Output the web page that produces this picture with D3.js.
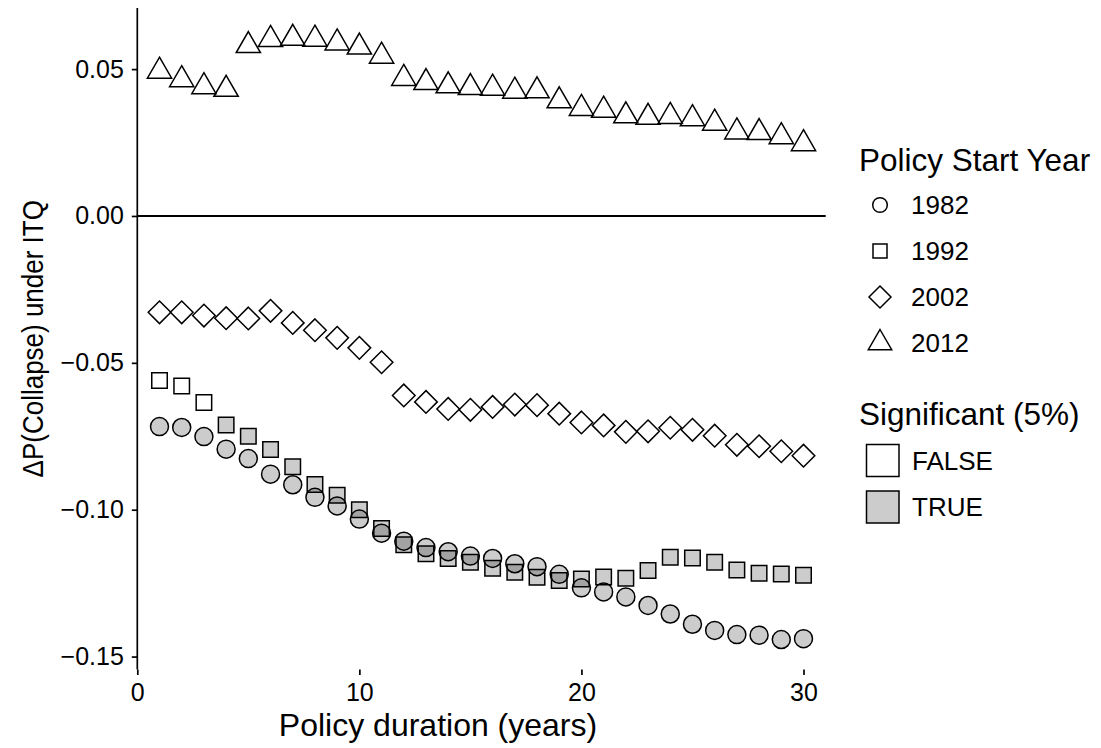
<!DOCTYPE html>
<html>
<head>
<meta charset="utf-8">
<script src="https://cdn.jsdelivr.net/npm/d3@7"></script>
<style>
  body { margin: 0; background: #fff; }
  svg text { font-family: "Liberation Sans", Arial, sans-serif; fill: #000; }
</style>
</head>
<body>
<div id="chart"></div>
<script>
// policy duration in years (x)
const duration = [1,2,3,4,5,6,7,8,9,10,11,12,13,14,15,16,17,18,19,20,21,22,23,24,25,26,27,28,29,30];

// delta P(collapse) per policy start year
const start1982 = [-0.0717,-0.0720,-0.0751,-0.0794,-0.0826,-0.0879,-0.0915,-0.0958,-0.0987,-0.1032,
                   -0.1080,-0.1107,-0.1129,-0.1143,-0.1158,-0.1166,-0.1184,-0.1194,-0.1220,-0.1266,
                   -0.1280,-0.1297,-0.1326,-0.1355,-0.1390,-0.1411,-0.1425,-0.1427,-0.1442,-0.1439];
const start1992 = [-0.0560,-0.0579,-0.0635,-0.0712,-0.0750,-0.0795,-0.0854,-0.0914,-0.0951,-0.1000,
                   -0.1064,-0.1119,-0.1150,-0.1166,-0.1179,-0.1199,-0.1213,-0.1230,-0.1241,-0.1236,
                   -0.1229,-0.1233,-0.1207,-0.1162,-0.1164,-0.1179,-0.1205,-0.1216,-0.1219,-0.1223];
const start2002 = [-0.0328,-0.0328,-0.0339,-0.0348,-0.0349,-0.0323,-0.0364,-0.0389,-0.0415,-0.0449,
                   -0.0498,-0.0611,-0.0633,-0.0657,-0.0660,-0.0650,-0.0642,-0.0644,-0.0673,-0.0703,
                   -0.0713,-0.0735,-0.0733,-0.0721,-0.0728,-0.0748,-0.0779,-0.0784,-0.0801,-0.0816];
const start2012 = [0.0493,0.0464,0.0440,0.0431,0.0580,0.0601,0.0605,0.0602,0.0589,0.0575,
                   0.0544,0.0468,0.0454,0.0443,0.0437,0.0435,0.0425,0.0426,0.0392,0.0366,
                   0.0360,0.0341,0.0336,0.0339,0.0331,0.0316,0.0286,0.0284,0.0270,0.0246];

// significant at 5%? (1992: first three durations are not)
const sig1982 = duration.map(() => true);
const sig1992 = [false,false,false,true,true,true,true,true,true,true,true,true,true,true,true,
                 true,true,true,true,true,true,true,true,true,true,true,true,true,true,true];
const sig2002 = duration.map(() => false);
const sig2012 = duration.map(() => false);

const years = ["1982", "1992", "2002", "2012"];
const sigLevels = ["FALSE", "TRUE"];
const xTicks = [0, 10, 20, 30];
const yTicks = [0.05, 0.00, -0.05, -0.10, -0.15];

const W = 1101, H = 748;
const margin = {left: 137.3, right: W - 825.7, top: 8, bottom: H - 669.5};

const svg = d3.select("#chart").append("svg")
    .attr("width", W).attr("height", H);

const x = d3.scaleLinear().domain([0, 31]).range([margin.left, W - margin.right]);
const y = d3.scaleLinear().domain([-0.1544, 0.0708]).range([H - margin.bottom, margin.top]);

// marker shapes
const diamond = {draw(ctx, size) {
    const r = Math.sqrt(size / 2);
    ctx.moveTo(0, -r); ctx.lineTo(r, 0); ctx.lineTo(0, r); ctx.lineTo(-r, 0); ctx.closePath();
}};
const shapeOf = {
    "1982": d3.symbol().type(d3.symbolCircle).size(Math.PI * 9 * 9),
    "1992": d3.symbol().type(d3.symbolSquare).size(15.5 * 15.5),
    "2002": d3.symbol().type(diamond).size(2 * 11.3 * 11.3),
    "2012": d3.symbol().type(d3.symbolTriangle).size(3 * Math.sqrt(3) / 4 * 14 * 14)
};
const fillOf = {"FALSE": "rgba(255,255,255,0.2)", "TRUE": "rgba(0,0,0,0.2)"};

const series = [
    {year: "1982", vals: start1982, sig: sig1982},
    {year: "1992", vals: start1992, sig: sig1992},
    {year: "2002", vals: start2002, sig: sig2002},
    {year: "2012", vals: start2012, sig: sig2012}
];
const points = [];
series.forEach(s => {
    duration.forEach((d, i) => {
        points.push({year: s.year, dur: d, val: s.vals[i], sig: s.sig[i] ? "TRUE" : "FALSE"});
    });
});

// zero line
svg.append("line")
    .attr("x1", x(0)).attr("x2", x(31))
    .attr("y1", y(0)).attr("y2", y(0))
    .attr("stroke", "#000").attr("stroke-width", 2);

// points
svg.append("g").selectAll("path")
    .data(points)
    .join("path")
    .attr("transform", d => `translate(${x(d.dur)},${y(d.val)})`)
    .attr("d", d => shapeOf[d.year]())
    .attr("fill", d => fillOf[d.sig])
    .attr("stroke", "#000")
    .attr("stroke-width", 1.5);

// y axis
const yAxis = svg.append("g")
    .attr("transform", `translate(${margin.left},0)`)
    .call(d3.axisLeft(y).tickValues(yTicks).tickSize(5.5).tickPadding(8)
        .tickFormat(d => d3.format(".2f")(d).replace("-", "\u2212")));
yAxis.select(".domain").attr("d", `M0,${margin.top}V${H - margin.bottom}`)
    .attr("stroke-width", 1.7);
yAxis.selectAll(".tick line").attr("stroke-width", 1.7);
yAxis.selectAll("text").style("font-size", "25px").attr("fill", "#000");

// x axis (ticks only, no line)
const xAxis = svg.append("g")
    .attr("transform", `translate(0,${H - margin.bottom})`)
    .call(d3.axisBottom(x).tickValues(xTicks).tickSize(5.5).tickPadding(8));
xAxis.select(".domain").remove();
xAxis.selectAll(".tick line").attr("stroke-width", 1.7);
xAxis.selectAll("text").style("font-size", "25px").attr("fill", "#000");

// axis titles
svg.append("text")
    .attr("x", 438).attr("y", 736)
    .attr("text-anchor", "middle")
    .style("font-size", "32px")
    .text("Policy duration (years)");

svg.append("text")
    .attr("transform", `translate(43,${(margin.top + H - margin.bottom) / 2}) scale(1.15,1) rotate(-90)`)
    .attr("text-anchor", "middle")
    .style("font-size", "26px")
    .text("\u0394P(Collapse) under ITQ");

// legend: shapes
const lg = svg.append("g");
lg.append("text").attr("x", 859).attr("y", 171)
    .style("font-size", "31.5px").text("Policy Start Year");

const legendShape = {
    "1982": d3.symbol().type(d3.symbolCircle).size(Math.PI * 7.3 * 7.3),
    "1992": d3.symbol().type(d3.symbolSquare).size(14 * 14),
    "2002": d3.symbol().type(diamond).size(2 * 11 * 11),
    "2012": d3.symbol().type(d3.symbolTriangle).size(3 * Math.sqrt(3) / 4 * 13.5 * 13.5)
};
const rowY = d3.scalePoint().domain(years).range([205, 343]);
const rows = lg.selectAll("g.yr").data(years).join("g")
    .attr("class", "yr")
    .attr("transform", d => `translate(880,${rowY(d)})`);
rows.append("path")
    .attr("d", d => legendShape[d]())
    .attr("fill", "none").attr("stroke", "#000").attr("stroke-width", 1.5);
rows.append("text")
    .attr("x", 31).attr("dy", "0.36em")
    .style("font-size", "26px").text(d => d);

// legend: significance
lg.append("text").attr("x", 859).attr("y", 425)
    .style("font-size", "31.5px").text("Significant (5%)");
const sigY = d3.scalePoint().domain(sigLevels).range([460.5, 507]);
const srows = lg.selectAll("g.sg").data(sigLevels).join("g")
    .attr("class", "sg")
    .attr("transform", d => `translate(0,${sigY(d)})`);
srows.append("rect")
    .attr("x", 866.5).attr("y", -16).attr("width", 32.5).attr("height", 32)
    .attr("fill", d => d === "TRUE" ? "#cccccc" : "#fff")
    .attr("stroke", "#000").attr("stroke-width", 1.5);
srows.append("text")
    .attr("x", 912).attr("dy", "0.36em")
    .style("font-size", "26px").text(d => d);
</script>
</body>
</html>
